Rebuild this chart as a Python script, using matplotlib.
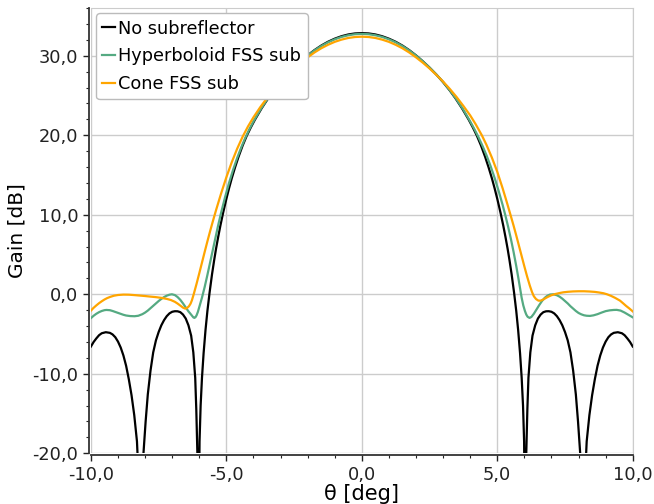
import numpy as np
import matplotlib
matplotlib.use('Agg')
import matplotlib.pyplot as plt
from matplotlib.ticker import MultipleLocator, FuncFormatter

# values (theta in deg, gain in dB)
theta_none = [-10.0, -9.9, -9.8, -9.7, -9.6, -9.45, -9.3, -9.2, -9.1, -9.0, -8.9, -8.8, -8.7,
              -8.6, -8.5, -8.4, -8.3, -8.24, -8.18, -8.13, -8.07, -7.98, -7.9, -7.8, -7.7, -7.6,
              -7.5, -7.4, -7.3, -7.2, -7.1, -7.0, -6.9, -6.8, -6.7, -6.6, -6.5, -6.4, -6.3, -6.22,
              -6.15, -6.11, -6.07, -6.03,
              -5.99, -5.95, -5.9, -5.84, -5.77, -5.7, -5.62, -5.53, -5.45, -5.38, -5.3, -5.22,
              -5.12, -5.0, -4.9, -4.8, -4.68, -4.55, -4.4, -4.25, -4.1, -3.95, -3.7, -3.45, -3.25,
              -3.0, -2.75, -2.5, -2.25, -2.0, -1.75, -1.5, -1.25, -1.0, -0.75, -0.5, -0.25, 0.0,
              0.25, 0.5, 0.75, 1.0, 1.25, 1.5, 1.75, 2.0, 2.25, 2.5, 2.75, 3.0, 3.25, 3.45, 3.7,
              3.95, 4.1, 4.25, 4.4, 4.55, 4.68, 4.8, 4.9, 5.0, 5.12, 5.22, 5.3, 5.38, 5.45, 5.53,
              5.62, 5.7, 5.77, 5.84, 5.9, 5.95, 5.99,
              6.03, 6.07, 6.11, 6.15, 6.22, 6.3, 6.4, 6.5, 6.6, 6.7, 6.8, 6.9, 7.0, 7.1, 7.2, 7.3,
              7.4, 7.5, 7.6, 7.7, 7.8, 7.9, 7.98, 8.07, 8.13, 8.18, 8.24, 8.3, 8.4, 8.5, 8.6, 8.7,
              8.8, 8.9, 9.0, 9.1, 9.2, 9.3, 9.45, 9.6, 9.7, 9.8, 9.9, 10.0]
gain_none = [-6.57, -6.0, -5.55, -5.15, -4.9, -4.77, -4.85, -5.05, -5.4, -5.95, -6.7, -7.7, -9.0,
             -10.7, -12.7, -15.2, -18.5, -23.0, -35.0, -25.0, -20.5, -16.0, -12.6, -9.6, -7.3, -5.8,
             -4.75, -3.9, -3.25, -2.75, -2.4, -2.2, -2.13, -2.14, -2.25, -2.55, -3.05, -3.9, -5.2, -7.3,
             -10.5, -14.5, -20.0, -35.0,
             -18.5, -14.0, -10.5, -7.4, -4.5, -2.1, 0.2, 2.5, 4.3, 5.75, 7.25, 8.65,
             10.25, 12.0, 13.35, 14.6, 15.95, 17.3, 18.7, 19.92, 20.97, 21.93, 23.38, 24.68, 25.62,
             26.68, 27.64, 28.51, 29.31, 30.05, 30.71, 31.28, 31.76, 32.15, 32.46, 32.68, 32.81, 32.85,
             32.81, 32.68, 32.46, 32.15, 31.76, 31.28, 30.71, 30.05, 29.31, 28.51, 27.64, 26.68, 25.62, 24.68, 23.38,
             21.93, 20.97, 19.92, 18.7, 17.3, 15.95, 14.6, 13.35, 12.0, 10.25, 8.65, 7.25, 5.75, 4.3, 2.5,
             0.2, -2.1, -4.5, -7.4, -10.5, -14.0, -18.5,
             -35.0, -20.0, -14.5, -10.5, -7.3, -5.2, -3.9, -3.05, -2.55, -2.25, -2.14, -2.13, -2.2, -2.4, -2.75, -3.25,
             -3.9, -4.75, -5.8, -7.3, -9.6, -12.6, -16.0, -20.5, -25.0, -35.0, -23.0, -18.5, -15.2, -12.7, -10.7, -9.0,
             -7.7, -6.7, -5.95, -5.4, -5.05, -4.85, -4.77, -4.9, -5.15, -5.55, -6.0, -6.57]

theta_hyp = [-10.0, -9.9, -9.8, -9.7, -9.6, -9.5, -9.43, -9.3, -9.2, -9.1, -9.0, -8.9, -8.8, -8.7,
             -8.55, -8.39, -8.25, -8.1, -8.0, -7.9, -7.8, -7.7, -7.6, -7.5, -7.4, -7.3, -7.2, -7.1,
             -7.01, -6.9, -6.8, -6.7, -6.6, -6.5, -6.4, -6.35, -6.27, -6.22, -6.18,
             -6.14, -6.1, -6.05, -5.98, -5.9, -5.8, -5.7, -5.6, -5.5, -5.4, -5.3, -5.2, -5.05,
             -4.9, -4.75, -4.6, -4.45, -4.3, -4.15, -4.0, -3.75, -3.5, -3.25, -3.0, -2.75, -2.5,
             -2.25, -2.0, -1.75, -1.5, -1.25, -1.0, -0.75, -0.5, -0.25, 0.0,
             0.25, 0.5, 0.75, 1.0, 1.25, 1.5, 1.75, 2.0, 2.25, 2.5, 2.75, 3.0, 3.25, 3.5, 3.75,
             4.0, 4.15, 4.3, 4.45, 4.6, 4.75, 4.9, 5.05, 5.2, 5.3, 5.4, 5.5, 5.6, 5.7, 5.78, 5.85,
             5.9, 5.96, 6.02, 6.07, 6.12, 6.19, 6.26, 6.35, 6.45, 6.55, 6.65, 6.75, 6.85, 6.95,
             7.07, 7.2, 7.3, 7.4, 7.5, 7.6, 7.7, 7.8, 7.9, 8.0, 8.1, 8.2, 8.3, 8.42, 8.55, 8.7,
             8.85, 9.0, 9.15, 9.3, 9.41, 9.55, 9.7, 9.85, 10.0]
gain_hyp = [-3.0, -2.7, -2.45, -2.25, -2.1, -2.0, -1.97, -2.0, -2.1, -2.22, -2.35, -2.47, -2.58, -2.67,
            -2.74, -2.76, -2.7, -2.5, -2.3, -2.05, -1.75, -1.45, -1.15, -0.85, -0.58, -0.35, -0.17, -0.05,
            0.0, -0.1, -0.35, -0.7, -1.15, -1.65, -2.15, -2.35, -2.7, -2.9, -2.97,
            -2.88, -2.65, -2.2, -1.38, -0.42, 0.93, 2.43, 4.01, 5.61, 7.19, 8.72, 10.17, 12.19,
            14.02, 15.67, 17.16, 18.49, 19.69, 20.77, 21.74, 23.19, 24.49, 25.65, 26.7, 27.65, 28.51,
            29.3, 30.03, 30.67, 31.22, 31.69, 32.07, 32.37, 32.58, 32.71, 32.75,
            32.71, 32.58, 32.37, 32.07, 31.69, 31.22, 30.67, 30.03, 29.3, 28.51, 27.65, 26.7, 25.65, 24.49, 23.19,
            21.74, 20.8, 19.8, 18.7, 17.5, 16.15, 14.65, 13.0, 11.2, 9.9, 8.5, 7.0, 5.35, 3.55, 2.0, 0.55,
            -0.45, -1.4, -2.1, -2.55, -2.83, -2.97, -2.85, -2.45, -1.9, -1.35, -0.85, -0.45, -0.18, -0.03,
            0.0, -0.12, -0.3, -0.55, -0.85, -1.15, -1.5, -1.8, -2.1, -2.35, -2.52, -2.64, -2.7, -2.72, -2.65, -2.5,
            -2.3, -2.12, -2.02, -1.97, -1.96, -2.05, -2.3, -2.6, -2.9]

theta_cone = [-10.0, -9.9, -9.8, -9.7, -9.6, -9.5, -9.4, -9.29, -9.15, -9.0, -8.8, -8.6, -8.4, -8.2,
              -8.0, -7.81, -7.6, -7.4, -7.2, -7.05, -6.9, -6.8, -6.7, -6.6, -6.52,
              -6.45, -6.38, -6.32, -6.27, -6.2, -6.1, -6.0, -5.9, -5.8, -5.7, -5.6, -5.5, -5.38,
              -5.2, -5.0, -4.8, -4.6, -4.4, -4.2, -4.0, -3.75, -3.5, -3.25, -3.0, -2.75, -2.5,
              -2.25, -2.0, -1.75, -1.5, -1.25, -1.0, -0.75, -0.5, -0.25, 0.0,
              0.25, 0.5, 0.75, 1.0, 1.25, 1.5, 1.75, 2.0, 2.25, 2.5, 2.75, 3.0, 3.25, 3.5, 3.75,
              4.0, 4.2, 4.43, 4.6, 4.8, 5.0, 5.2, 5.35, 5.47, 5.6, 5.7, 5.8, 5.9, 6.0, 6.1, 6.2,
              6.28, 6.35, 6.43, 6.52, 6.6, 6.7, 6.8, 6.9, 7.0, 7.15, 7.3, 7.44, 7.6, 7.8, 8.0,
              8.2, 8.4, 8.6, 8.75, 8.92, 9.05, 9.2, 9.35, 9.53, 9.65, 9.75, 9.88, 10.0]
gain_cone = [-2.05, -1.7, -1.4, -1.12, -0.88, -0.66, -0.48, -0.33, -0.18, -0.09, -0.04, -0.05, -0.1, -0.16,
             -0.22, -0.29, -0.36, -0.45, -0.58, -0.72, -0.95, -1.17, -1.42, -1.68, -1.8,
             -1.72, -1.5, -1.17, -0.74, 0.07, 1.32, 2.64, 3.99, 5.34, 6.66, 7.94, 9.17, 10.59,
             12.62, 14.72, 16.62, 18.32, 19.82, 21.12, 22.26, 23.53, 24.68, 25.73, 26.68, 27.55, 28.36,
             29.11, 29.8, 30.41, 30.94, 31.38, 31.75, 32.03, 32.24, 32.36, 32.4,
             32.36, 32.24, 32.03, 31.75, 31.38, 30.94, 30.41, 29.8, 29.13, 28.4, 27.6, 26.75, 25.82, 24.8, 23.68,
             22.5, 21.4, 20.0, 18.8, 17.2, 15.4, 13.3, 11.6, 10.2, 8.65, 7.4, 6.1, 4.8, 3.5, 2.25, 1.1,
             0.3, -0.25, -0.6, -0.8, -0.8, -0.65, -0.45, -0.27, -0.12, 0.04, 0.16, 0.25, 0.31, 0.36, 0.38,
             0.38, 0.35, 0.3, 0.23, 0.13, 0.0, -0.2, -0.45, -0.8, -1.15, -1.45, -1.8, -2.15]

labels = ['No subreflector', 'Hyperboloid FSS sub', 'Cone FSS sub']
colors = ['black', '#55aa82', '#ffa500']

fig = plt.figure(figsize=(6.54, 5.04), dpi=100)
ax = fig.add_axes([0.139, 0.1006, 0.8285, 0.8834])

ax.plot(theta_none, gain_none, color=colors[0], lw=1.6, label=labels[0])
ax.plot(theta_hyp, gain_hyp, color=colors[1], lw=1.6, label=labels[1])
ax.plot(theta_cone, gain_cone, color=colors[2], lw=1.6, label=labels[2])

ax.set_xlim(-10, 10)
ax.set_ylim(-20, 36)
ax.xaxis.set_major_locator(MultipleLocator(5))
ax.xaxis.set_minor_locator(MultipleLocator(1))
ax.yaxis.set_major_locator(MultipleLocator(10))
ax.yaxis.set_minor_locator(MultipleLocator(2))
fmt = FuncFormatter(lambda v, pos: ('%.1f' % v).replace('.', ','))
ax.xaxis.set_major_formatter(fmt)
ax.yaxis.set_major_formatter(fmt)
ax.tick_params(which='major', direction='out', length=4, width=1, labelsize=12.8, colors='#222222')
ax.tick_params(which='minor', direction='out', length=2.5, width=0.8, colors='#222222')

ax.grid(True, which='major', color='#cccccc', lw=1)
ax.set_axisbelow(True)

for s in ['top', 'right']:
    ax.spines[s].set_color('#cccccc')
for s in ['left', 'bottom']:
    ax.spines[s].set_color('#333333')
    ax.spines[s].set_linewidth(1.3)
    ax.spines[s].set_position(('outward', 1.5))

ax.set_xlabel('θ [deg]', fontsize=15, labelpad=0)
ax.set_ylabel('Gain [dB]', fontsize=14.5, labelpad=4)

ax.legend(loc='upper left', fontsize=12.8, handlelength=0.7, handletextpad=0.2,
          borderpad=0.35, labelspacing=0.55, borderaxespad=0.3, framealpha=1,
          edgecolor='#bbbbbb')

plt.savefig('out.png', dpi=100)
